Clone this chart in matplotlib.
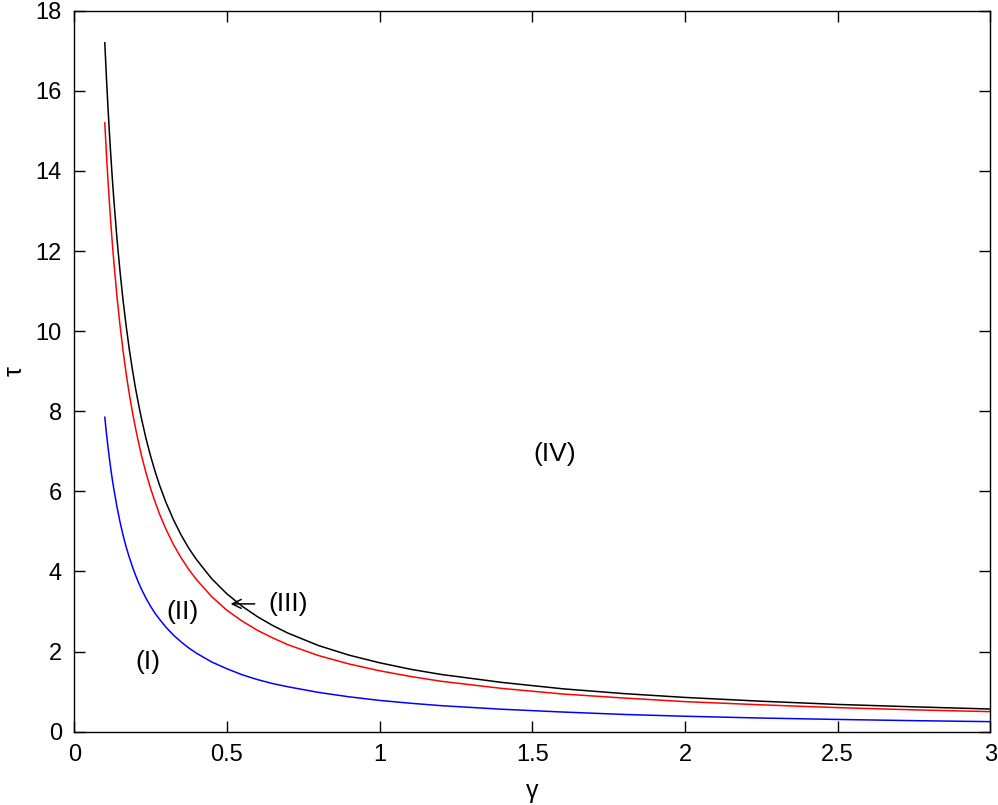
import matplotlib
matplotlib.use("Agg")
import matplotlib.pyplot as plt

plt.rcParams['font.family'] = ['Liberation Sans', 'DejaVu Sans']

gamma = [0.1, 0.105, 0.11, 0.115, 0.12, 0.125, 0.13, 0.14, 0.15, 0.16, 0.17, 0.18, 0.19,
         0.2, 0.21, 0.22, 0.235, 0.25, 0.265, 0.28, 0.3, 0.325, 0.35, 0.375, 0.4, 0.45,
         0.5, 0.55, 0.6, 0.65, 0.7, 0.8, 0.9, 1.0, 1.1, 1.2, 1.4, 1.6, 1.8, 2.0,
         2.25, 2.5, 2.75, 3.0]

tau_black = [17.2, 16.39, 15.65, 14.97, 14.35, 13.77, 13.25, 12.3, 11.48, 10.76, 10.13, 9.56, 9.06,
             8.6, 8.2, 7.82, 7.32, 6.88, 6.49, 6.14, 5.73, 5.29, 4.91, 4.58, 4.3, 3.82,
             3.44, 3.13, 2.87, 2.65, 2.46, 2.15, 1.91, 1.72, 1.56, 1.43, 1.23, 1.07, 0.95, 0.855,
             0.76, 0.68, 0.62, 0.565]

tau_red = [15.2, 14.48, 13.82, 13.22, 12.67, 12.16, 11.7, 10.86, 10.13, 9.5, 8.94, 8.44, 8.0,
           7.6, 7.24, 6.9, 6.46, 6.07, 5.73, 5.42, 5.06, 4.67, 4.34, 4.05, 3.8, 3.37,
           3.03, 2.76, 2.53, 2.34, 2.17, 1.9, 1.69, 1.52, 1.38, 1.26, 1.08, 0.94, 0.84, 0.75,
           0.67, 0.6, 0.545, 0.5]

tau_blue = [7.85, 7.48, 7.14, 6.83, 6.54, 6.28, 6.04, 5.61, 5.23, 4.9, 4.61, 4.36, 4.13,
            3.92, 3.73, 3.56, 3.33, 3.13, 2.95, 2.8, 2.61, 2.41, 2.24, 2.09, 1.96, 1.74,
            1.57, 1.42, 1.3, 1.2, 1.12, 0.98, 0.87, 0.78, 0.71, 0.65, 0.56, 0.49, 0.43, 0.385,
            0.34, 0.305, 0.275, 0.25]

xticks = [0, 0.5, 1, 1.5, 2, 2.5, 3]
xtick_labels = ['0', '0.5', '1', '1.5', '2', '2.5', '3']
yticks = [0, 2, 4, 6, 8, 10, 12, 14, 16, 18]
ytick_labels = ['0', '2', '4', '6', '8', '10', '12', '14', '16', '18']

region_labels = ['(I)', '(II)', '(III)', '(IV)']
region_pos = [(0.242, 1.74), (0.356, 2.99), (0.70, 3.19), (1.575, 6.92)]

fig = plt.figure(figsize=(9.98, 8.05), dpi=100)
ax = fig.add_axes([0.0744, 0.0911, 0.9179, 0.8956])

ax.plot(gamma, tau_black, color='black', lw=1.1)
ax.plot(gamma, tau_red, color='red', lw=1.1)
ax.plot(gamma, tau_blue, color='blue', lw=1.1)

ax.set_xlim(0, 3)
ax.set_ylim(0, 18)
ax.set_xticks(xticks)
ax.set_xticklabels(xtick_labels)
ax.set_yticks(yticks)
ax.set_yticklabels(ytick_labels)
ax.tick_params(direction='in', length=8, width=1, top=True, right=True,
               labelsize=17, pad=9, colors='black')
for s in ax.spines.values():
    s.set_linewidth(1.0)

ax.set_xlabel('γ', fontsize=18, labelpad=9)
ax.set_ylabel('τ', fontsize=18, labelpad=6)

for lab, (x, y) in zip(region_labels, region_pos):
    ax.text(x, y, lab, fontsize=19, ha='center', va='center')

ax.annotate('', xy=(0.503, 3.19), xytext=(0.60, 3.19),
            arrowprops=dict(arrowstyle='->', lw=1.1, color='black', mutation_scale=16))

fig.savefig('out.png', dpi=100)
